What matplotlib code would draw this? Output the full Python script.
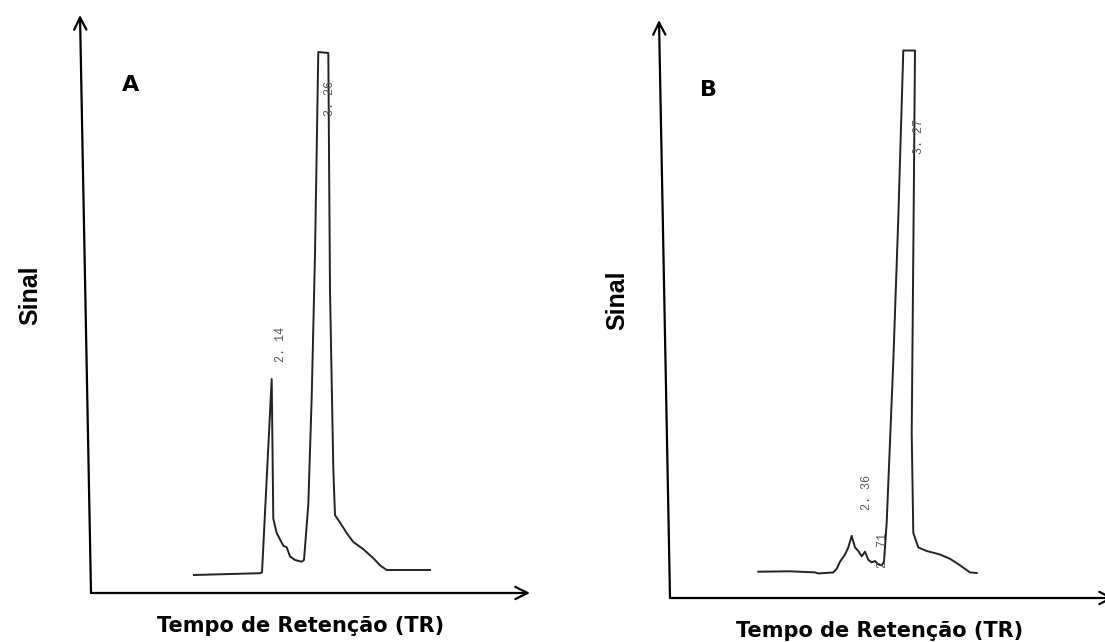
import matplotlib.pyplot as plt

tA = [103, 169, 171, 180.7, 182.3, 185.7, 192.3, 195.7, 199, 204, 210.7, 213,
      217.3, 220.7, 224, 227.3, 237.3, 239, 242.3, 244, 249, 255.7, 262.3,
      272.3, 282.3, 289, 295.7, 339]
sA = [18, 19.8, 20.5, 214, 74.2, 59.9, 47.3, 45.6, 36.6, 33, 31.3, 33,
      88.5, 195.8, 338.9, 541, 540, 303.1, 124.3, 77.8, 70.6, 59.9, 51,
      43.8, 34.8, 27.7, 23, 23]

tB = [88.3, 120, 145, 148.3, 163.3, 166.7, 170, 175, 178.3, 181.7, 185, 188.3,
      191.7, 195, 198.3, 201.7, 205, 208.3, 211.7, 214, 216.7, 223.3, 228.3,
      233.3, 245, 243.3, 241.7, 243.3, 248.3, 256.7, 270, 280, 290, 300, 306.7]
sB = [26.3, 26.7, 25.6, 24.5, 25.6, 29.2, 36.3, 43.5, 50.6, 62.1, 50.6, 47,
      41.7, 46.3, 38.1, 35.6, 37, 33.5, 32.7, 36.3, 75.7, 236.8, 380,
      547.5, 547.5, 344.2, 165.2, 65, 50.6, 47, 43.5, 39.2, 32.7, 25.6, 25]

# peak retention time labels: text, x, y
labelsA = [("2. 14", 190.5, 248), ("3. 26", 239, 494)]
labelsB = [("3. 27", 249, 461), ("2. 36", 197, 106), ("2. 71", 212.5, 48)]

W, H = 1105, 642
fig = plt.figure(figsize=(W / 100, H / 100), dpi=100)
fig.patch.set_facecolor('white')

axA = fig.add_axes([91 / W, (H - 593) / H, 440 / W, 578 / H])
axB = fig.add_axes([670 / W, (H - 598) / H, 440 / W, 578 / H])

arrow = dict(arrowstyle='->', lw=1.6, color='black', mutation_scale=22,
             shrinkA=0, shrinkB=0)

panels = [(axA, tA, sA, labelsA, 'A', 30 - 91, 439),
          (axB, tB, sB, labelsB, 'B', 617 - 670, 444)]

for ax, t, s, labels, letter, sinal_x, x_end in panels:
    ax.set_xlim(0, 440)
    ax.set_ylim(0, 578)
    ax.axis('off')

    # axes drawn as arrows (y axis slightly tilted as in the scan)
    ax.annotate('', xy=(-11, 578), xytext=(0, 0), arrowprops=arrow,
                annotation_clip=False)
    ax.annotate('', xy=(x_end, 0), xytext=(0, 0), arrowprops=arrow,
                annotation_clip=False)

    ax.plot(t, s, color='#222222', lw=1.4, clip_on=False)

    for txt, x, y in labels:
        ax.text(x, y, txt, rotation=90, ha='center', va='center',
                fontsize=8.5, family='Liberation Mono', color='#555555')

    ax.text(40 if letter == 'A' else 38, 508, letter, fontsize=16,
            fontweight='bold', ha='center', va='center', family='DejaVu Sans')
    ax.text(sinal_x, 298, 'Sinal', rotation=90, ha='center', va='center',
            fontsize=18, fontweight='bold',
            family=['Liberation Sans Narrow', 'Liberation Sans'], clip_on=False)
    ax.text(210, -33, 'Tempo de Retenção (TR)', ha='center', va='center',
            fontsize=15, fontweight='bold', family='DejaVu Sans', clip_on=False)

fig.savefig('out.png', dpi=100)
